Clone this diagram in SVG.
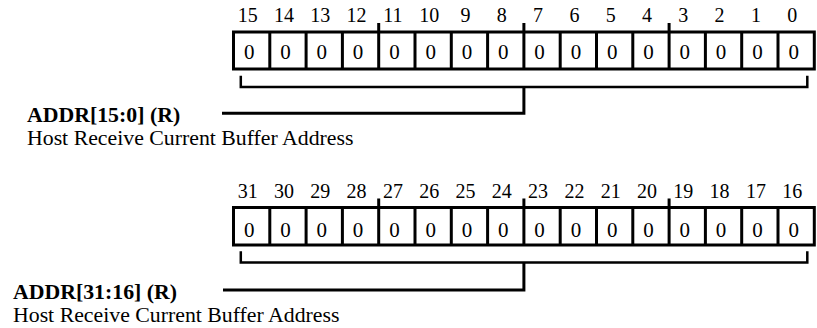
<svg xmlns="http://www.w3.org/2000/svg" width="817" height="328" viewBox="0 0 817 328">
<style>
.bg{fill:#fff}
.box{fill:#fff;stroke:#000;stroke-width:3}
.div{stroke:#000;stroke-width:3;fill:none}
.con{stroke:#000;stroke-width:2.5;fill:none;stroke-linecap:square}
.lead{stroke:#000;stroke-width:3;fill:none}
.num{font-family:"Liberation Serif","Times New Roman",serif;font-size:20px;text-anchor:middle;fill:#000}
.val{font-family:"Liberation Serif","Times New Roman",serif;font-size:21px;text-anchor:middle;fill:#000}
.name{font-family:"Liberation Serif","Times New Roman",serif;font-size:21.8px;font-weight:bold;fill:#000}
.desc{font-family:"Liberation Serif","Times New Roman",serif;font-size:21.8px;fill:#000}
</style>
<rect class="bg" x="0" y="0" width="817" height="328"/>

<g id="reg-lo">
<g class="num">
<text x="247.7" y="21.5">15</text><text x="284.0" y="21.5">14</text><text x="320.3" y="21.5">13</text><text x="356.6" y="21.5">12</text>
<text x="392.9" y="21.5">11</text><text x="429.2" y="21.5">10</text><text x="465.5" y="21.5">9</text><text x="501.8" y="21.5">8</text>
<text x="538.1" y="21.5">7</text><text x="574.4" y="21.5">6</text><text x="610.7" y="21.5">5</text><text x="647.0" y="21.5">4</text>
<text x="683.3" y="21.5">3</text><text x="719.6" y="21.5">2</text><text x="755.9" y="21.5">1</text><text x="792.2" y="21.5">0</text>
</g>
<rect class="box" x="233.5" y="32" width="580.8" height="37"/>
<path class="div" d="M269.8 32V69M306.1 32V69M342.4 32V69M378.7 23V69M415.0 32V69M451.3 32V69M487.6 32V69M523.9 23V69M560.2 32V69M596.5 32V69M632.8 32V69M669.1 23V69M705.4 32V69M741.7 32V69M778.0 32V69"/>
<g class="val">
<text x="249.2" y="59">0</text><text x="285.5" y="59">0</text><text x="321.8" y="59">0</text><text x="358.1" y="59">0</text>
<text x="394.4" y="59">0</text><text x="430.7" y="59">0</text><text x="467.0" y="59">0</text><text x="503.3" y="59">0</text>
<text x="539.6" y="59">0</text><text x="575.9" y="59">0</text><text x="612.2" y="59">0</text><text x="648.5" y="59">0</text>
<text x="684.8" y="59">0</text><text x="721.1" y="59">0</text><text x="757.4" y="59">0</text><text x="793.7" y="59">0</text>
</g>
</g>

<g id="label-lo">
<text class="name" x="27" y="121.5">ADDR[15:0] (R)</text>
<text class="desc" x="27" y="145">Host Receive Current Buffer Address</text>
</g>

<g id="reg-hi">
<g class="num">
<text x="247.7" y="197.5">31</text><text x="284.0" y="197.5">30</text><text x="320.3" y="197.5">29</text><text x="356.6" y="197.5">28</text>
<text x="392.9" y="197.5">27</text><text x="429.2" y="197.5">26</text><text x="465.5" y="197.5">25</text><text x="501.8" y="197.5">24</text>
<text x="538.1" y="197.5">23</text><text x="574.4" y="197.5">22</text><text x="610.7" y="197.5">21</text><text x="647.0" y="197.5">20</text>
<text x="683.3" y="197.5">19</text><text x="719.6" y="197.5">18</text><text x="755.9" y="197.5">17</text><text x="792.2" y="197.5">16</text>
</g>
<rect class="box" x="233.5" y="207.5" width="580.8" height="37.5"/>
<path class="div" d="M269.8 207.5V245M306.1 207.5V245M342.4 207.5V245M378.7 198.5V245M415.0 207.5V245M451.3 207.5V245M487.6 207.5V245M523.9 198.5V245M560.2 207.5V245M596.5 207.5V245M632.8 207.5V245M669.1 198.5V245M705.4 207.5V245M741.7 207.5V245M778.0 207.5V245"/>
<g class="val">
<text x="249.2" y="236.5">0</text><text x="285.5" y="236.5">0</text><text x="321.8" y="236.5">0</text><text x="358.1" y="236.5">0</text>
<text x="394.4" y="236.5">0</text><text x="430.7" y="236.5">0</text><text x="467.0" y="236.5">0</text><text x="503.3" y="236.5">0</text>
<text x="539.6" y="236.5">0</text><text x="575.9" y="236.5">0</text><text x="612.2" y="236.5">0</text><text x="648.5" y="236.5">0</text>
<text x="684.8" y="236.5">0</text><text x="721.1" y="236.5">0</text><text x="757.4" y="236.5">0</text><text x="793.7" y="236.5">0</text>
</g>
</g>

<g id="label-hi">
<text class="name" x="13" y="299.3">ADDR[31:16] (R)</text>
<text class="desc" x="13" y="321.7">Host Receive Current Buffer Address</text>
</g>

<g id="connectors">
<path class="con" d="M240.8 77V87H807.3V77"/>
<path class="lead" d="M523.9 87V113.3H222"/>
<path class="con" d="M240.8 252.5V262.5H807.3V252.5"/>
<path class="lead" d="M523.9 262.5V290H223"/>
</g>
</svg>
